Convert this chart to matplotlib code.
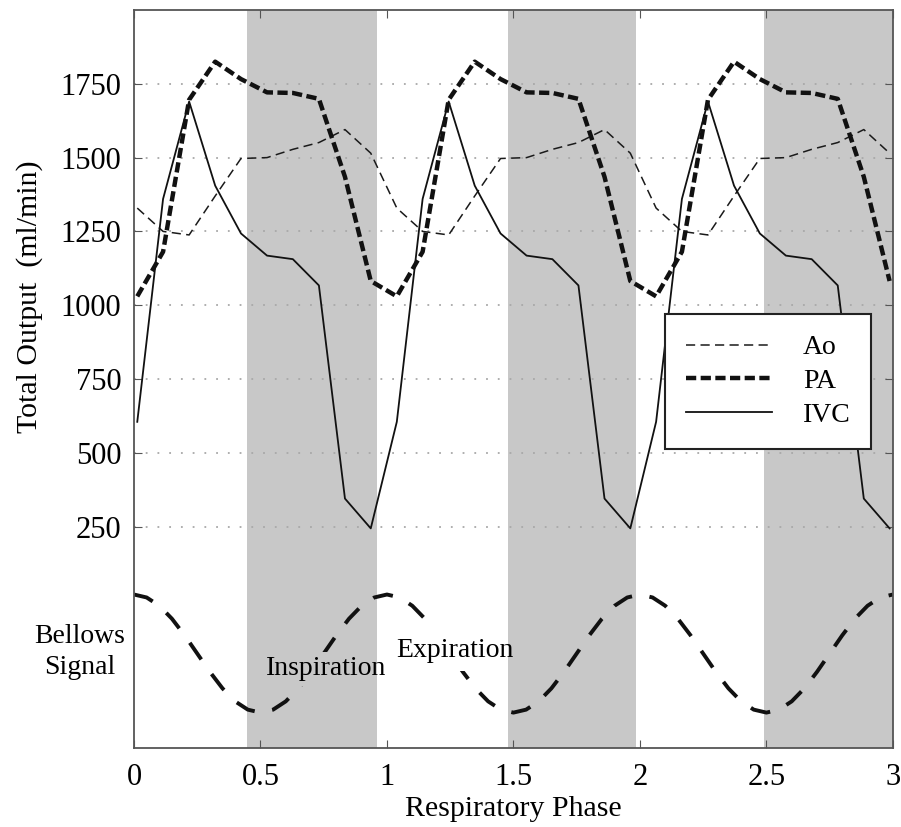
import numpy as np
import matplotlib
matplotlib.use('Agg')
import matplotlib.pyplot as plt
from matplotlib.patches import Rectangle

cycle_phase = [0.013, 0.115, 0.218, 0.321, 0.423, 0.526, 0.628, 0.731, 0.834, 0.936]
cycle_start = [0.0, 1.026, 2.051]

ao_cycle = [1329, 1250, 1238, 1370, 1497, 1500, 1528, 1551, 1595, 1515]
pa_cycle = [1030, 1181, 1696, 1825, 1766, 1721, 1719, 1699, 1435, 1082]
ivc_cycle = [605, 1360, 1690, 1405, 1243, 1168, 1156, 1067, 345, 244]

# bellows trace for one cycle, arbitrary units placed under the flow curves
bellows_phase = [0.0, 0.05, 0.1, 0.15, 0.2, 0.25, 0.3, 0.35, 0.4, 0.45, 0.5,
                 0.55, 0.6, 0.65, 0.7, 0.75, 0.8, 0.85, 0.9, 0.95]
bellows_cycle = [20, 10, -18, -62, -118, -180, -242, -298, -342, -370, -380,
                 -370, -342, -298, -242, -180, -118, -62, -18, 10]

# inspiration windows (shaded)
insp_start = [0.446, 1.477, 2.49]
insp_end = [0.96, 1.984, 3.0]

yticks = [250, 500, 750, 1000, 1250, 1500, 1750]
xticks = [0, 0.5, 1, 1.5, 2, 2.5, 3]
xticklabels = ['0', '0.5', '1', '1.5', '2', '2.5', '3']

SHADE = '#c8c8c8'


def main():
	plt.rcParams['font.family'] = ['Liberation Serif', 'DejaVu Serif']
	plt.rcParams['font.size'] = 20

	phase = np.concatenate([np.array(cycle_phase) + s for s in cycle_start])
	ao = np.tile(ao_cycle, 3)
	pa = np.tile(pa_cycle, 3)
	ivc = np.tile(ivc_cycle, 3)

	b_phase = np.concatenate([np.array(bellows_phase) + k for k in range(3)] + [[3.0]])
	bellows = np.concatenate([np.tile(bellows_cycle, 3), [bellows_cycle[0]]])

	fig = plt.figure(figsize=(9.01, 8.27), dpi=100)
	ax = fig.add_axes([0.1487, 0.0955, 0.8423, 0.8924])

	spans = []
	for a, b in zip(insp_start, insp_end):
		spans.append(ax.axvspan(a, b, color=SHADE, lw=0, zorder=0))

	ax.set_yticks(yticks)
	ax.yaxis.grid(True, color='#a8a8a8', linestyle=(0, (1, 5.5)), lw=1.3)
	ax.set_axisbelow(True)

	ax.plot(phase, ao, color='#1a1a1a', lw=1.1, linestyle=(0, (6.0, 3.5)), label='Ao')
	ax.plot(phase, pa, color='#111111', lw=3.2, linestyle=(0, (2.3, 1.0)), label='PA')
	ax.plot(phase, ivc, color='#111111', lw=1.3, label='IVC')
	ax.plot(b_phase, bellows, color='#111111', lw=2.8, linestyle=(0, (5.2, 4.6)))

	ax.set_xlim(0, 3)
	ax.set_ylim(-500, 2000)
	ax.set_xticks(xticks)
	ax.set_xticklabels(xticklabels)
	ax.tick_params(direction='in', top=True, right=True, length=6, color='#555555',
	               labelsize=22)
	ax.tick_params(axis='y', pad=9)
	ax.tick_params(axis='x', pad=11)

	for sp in ax.spines.values():
		sp.set_color('#555555')
		sp.set_linewidth(1.3)

	ax.set_xlabel('Respiratory Phase', labelpad=3, fontsize=21.5)
	ax.set_ylabel('Total Output  (ml/min)', fontsize=21.5)
	ax.yaxis.set_label_coords(-0.12, 0.612)

	ax.text(-0.215, -175, 'Bellows\nSignal', ha='center', va='center',
	        linespacing=1.35, clip_on=False)

	# the phase labels sit on top of the bellows trace and hide it;
	# keep each label's backing box inside its own band
	t_in = ax.text(0.52, -232, 'Inspiration', ha='left', va='center', zorder=5,
	               bbox=dict(boxstyle='square,pad=0.15', fc=SHADE, ec='none'))
	t_ex = ax.text(1.037, -168, 'Expiration', ha='left', va='center', zorder=5,
	               bbox=dict(boxstyle='square,pad=0.3', fc='white', ec='none'))
	white_band = Rectangle((insp_end[0], 0), insp_start[1] - insp_end[0], 1,
	                       transform=ax.get_xaxis_transform())
	t_in.get_bbox_patch().set_clip_path(spans[0])
	t_in.get_bbox_patch().set_clip_on(True)
	t_ex.get_bbox_patch().set_clip_path(white_band)
	t_ex.get_bbox_patch().set_clip_on(True)

	leg = ax.legend(loc='upper left', bbox_to_anchor=(0.7, 0.588), borderaxespad=0,
	                handlelength=3.1, handletextpad=1.1, borderpad=0.75,
	                labelspacing=0.3, fancybox=False, framealpha=1)
	leg.get_frame().set_edgecolor('#222222')
	leg.get_frame().set_linewidth(1.5)

	fig.savefig('out.png', dpi=100)


if __name__ == "__main__":
	main()
